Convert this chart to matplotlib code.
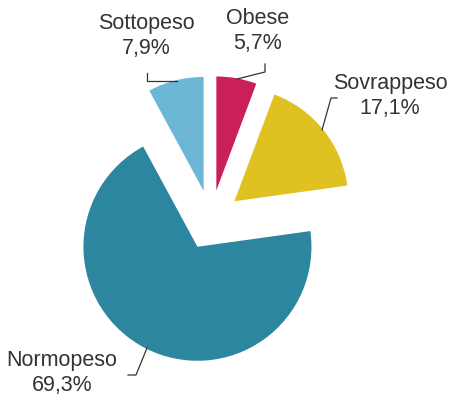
import matplotlib.pyplot as plt

# dati
categorie = ['Obese', 'Sovrappeso', 'Normopeso', 'Sottopeso']
valori = [5.7, 17.1, 69.3, 7.9]
etichette = ['Obese\n5,7%', 'Sovrappeso\n17,1%', 'Normopeso\n69,3%', 'Sottopeso\n7,9%']
colori = ['#C9205B', '#DFC221', '#2C86A0', '#6DB7D6']

plt.rcParams['font.family'] = ['Liberation Sans', 'DejaVu Sans']

fig = plt.figure(figsize=(4.61, 4.0), dpi=100)
ax = fig.add_axes([0, 0, 1, 1])

H = 400
centro = (211, H - 220)
raggio = 114

# explode in unita' dati (pixel)
ax.pie(valori, colors=colori, startangle=90, counterclock=False,
       explode=[30] * 4, radius=raggio, center=centro, frame=True,
       wedgeprops=dict(linewidth=0))
ax.set_xlim(0, 461)
ax.set_ylim(0, 400)
ax.set_aspect('equal')
ax.axis('off')

# posizioni etichette (pixel, y dall'alto)
pos_testo = [(258, 31), (390, 96), (62, 373), (146, 36)]
for lab, (x, y) in zip(etichette, pos_testo):
    ax.text(x, H - y, lab, ha='center', va='center', fontsize=15.5,
            color='#333333', linespacing=1.2)

# linee guida
linee = [
    [(237, 79), (265, 72), (265, 64)],
    [(322, 130), (331, 98), (337, 98)],
    [(147, 348), (136, 375), (128, 375)],
    [(177, 81), (147, 81), (147, 73)],
]
for pts in linee:
    xs = [p[0] for p in pts]
    ys = [H - p[1] for p in pts]
    ax.plot(xs, ys, color='#333333', linewidth=0.9)

fig.savefig('out.png', dpi=100)
